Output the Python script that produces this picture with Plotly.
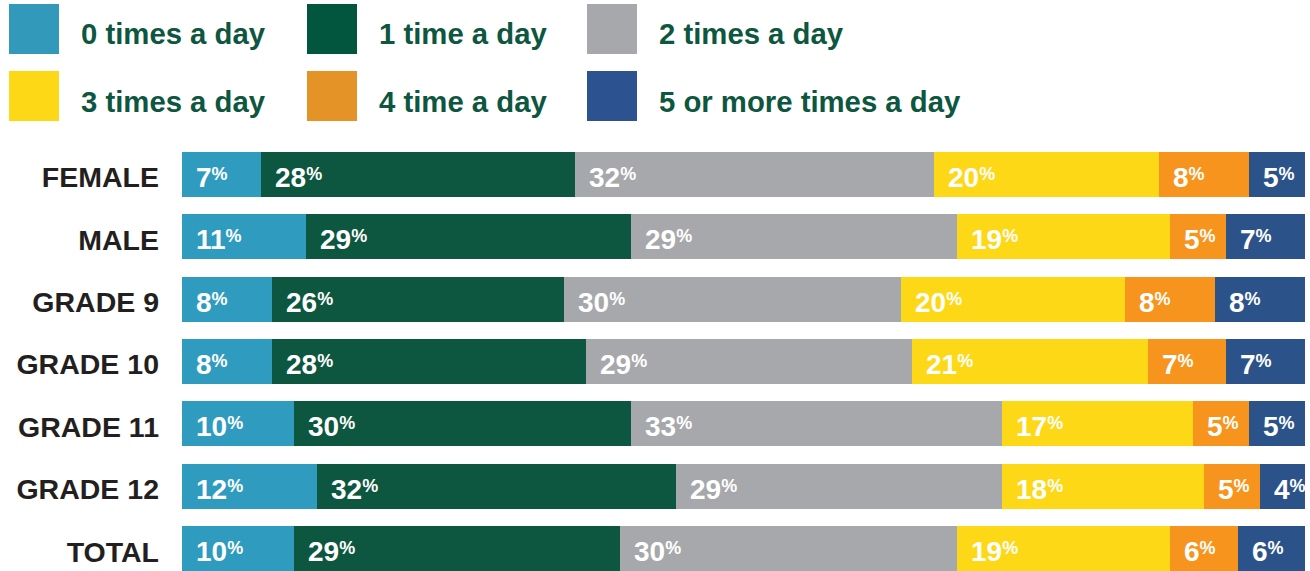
import plotly.graph_objects as go

categories = ["FEMALE", "MALE", "GRADE 9", "GRADE 10", "GRADE 11", "GRADE 12", "TOTAL"]
series_names = ["0 times a day", "1 time a day", "2 times a day",
                "3 times a day", "4 time a day", "5 or more times a day"]
zero_times = [7, 11, 8, 8, 10, 12, 10]
one_time = [28, 29, 26, 28, 30, 32, 29]
two_times = [32, 29, 30, 29, 33, 29, 30]
three_times = [20, 19, 20, 21, 17, 18, 19]
four_times = [8, 5, 8, 7, 5, 5, 6]
five_plus = [5, 7, 8, 7, 5, 4, 6]

series_values = [zero_times, one_time, two_times, three_times, four_times, five_plus]
bar_colors = ["#2E9BBF", "#0D5640", "#A7A8AB", "#FDD816", "#F7941D", "#2B5389"]
legend_colors = ["#3399BB", "#02563E", "#A7A8AB", "#FCD816", "#E49426", "#2C5390"]

W, H = 1310, 571
ML, MR, MT, MB = 182, 5, 152, 0
PW, PH = W - ML - MR, H - MT - MB


def px(X):
    return (X - ML) / PW


def py(Y):
    return (H - MB - Y) / PH


FONT = "Liberation Sans, Arial, Helvetica, sans-serif"
ypos = list(range(len(categories)))

fig = go.Figure()
for name, vals, col in zip(series_names, series_values, bar_colors):
    fig.add_trace(go.Bar(
        y=ypos, x=vals, name=name, orientation="h",
        marker=dict(color=col, line=dict(width=0)),
        width=0.72, showlegend=False, hoverinfo="x+name",
    ))

annotations = []
# value labels
for i in range(len(categories)):
    start = 0
    for vals in series_values:
        v = vals[i]
        annotations.append(dict(
            x=start, y=i, xref="x", yref="y", xanchor="left", yanchor="middle",
            xshift=12, yshift=-3, showarrow=False,
            text=(f"<b>{v}<span style='font-size:18px;baseline-shift:7px'>%</span></b>"),
            font=dict(family=FONT, size=28, color="white"),
        ))
        start += v

# custom legend
col_x = [9, 307, 587]
row_y = [4, 71]
shapes = []
for k, (name, col) in enumerate(zip(series_names, legend_colors)):
    r, c = divmod(k, 3)
    x0, y0 = col_x[c], row_y[r]
    shapes.append(dict(type="rect", xref="paper", yref="paper",
                       x0=px(x0), x1=px(x0 + 50), y0=py(y0 + 50), y1=py(y0),
                       fillcolor=col, line=dict(width=0), layer="above"))
    annotations.append(dict(
        x=px(x0 + 70), y=py(y0 + 30), xref="paper", yref="paper",
        xanchor="left", yanchor="middle", showarrow=False,
        text=f"<b>{name}</b>",
        font=dict(family=FONT, size=29.3, color="#0D5640"),
    ))

fig.update_layout(
    width=W, height=H,
    margin=dict(l=ML, r=MR, t=MT, b=MB, pad=0),
    paper_bgcolor="white", plot_bgcolor="white",
    barmode="stack", bargap=0,
    xaxis=dict(range=[0, 100], visible=False, fixedrange=True),
    yaxis=dict(
        range=[6.36, -0.36], tickmode="array", tickvals=ypos,
        ticktext=[f"<b>{c}</b>" for c in categories],
        tickfont=dict(family=FONT, size=28.5, color="#231F20"),
        ticks="", showgrid=False, zeroline=False, showline=False,
        ticklabelstandoff=22, ticklabelshift=-3, fixedrange=True,
    ),
    annotations=annotations, shapes=shapes,
    showlegend=False,
)

fig.write_html("out.html")
